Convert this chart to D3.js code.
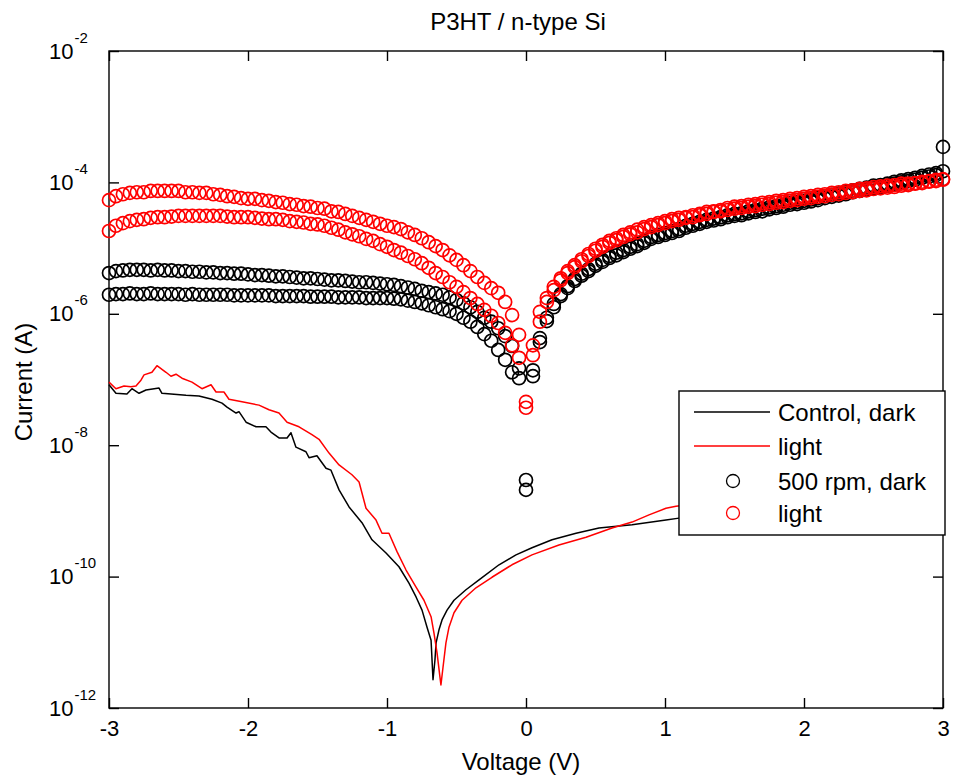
<!DOCTYPE html>
<html>
<head>
<meta charset="utf-8">
<script src="https://cdn.jsdelivr.net/npm/d3@7"></script>
<style>
  body { margin: 0; background: #fff; }
  svg { display: block; }
  text { font-family: "Liberation Sans", Arial, Helvetica, sans-serif; fill: #000; }
</style>
</head>
<body>
<svg id="chart" width="953" height="776"></svg>
<script>
// ---- labels ----
const chartTitle = "P3HT / n-type Si";
const xAxisLabel = "Voltage (V)";
const yAxisLabel = "Current (A)";
const xTickValues = [-3, -2, -1, 0, 1, 2, 3];
const yTickExponents = [-2, -4, -6, -8, -10, -12];
const legendLabels = ["Control, dark", "light", "500 rpm, dark", "light"];

// ---- control device: continuous traces (voltage in V, log10 of current in A) ----
const ctrlDarkV = [-3.00, -2.95, -2.871, -2.835, -2.784, -2.734, -2.640, -2.619, -2.446, -2.353,
  -2.259, -2.187, -2.151, -2.086, -2.065, -2.014, -1.942, -1.871, -1.835, -1.777,
  -1.719, -1.691, -1.655, -1.583, -1.561, -1.504, -1.439, -1.403, -1.345, -1.273,
  -1.180, -1.108, -1.007, -0.914, -0.842, -0.791, -0.748, -0.712, -0.683, -0.676,
  -0.669, -0.655, -0.647, -0.626, -0.604, -0.568, -0.518, -0.432, -0.338, -0.194,
  -0.072, 0.043, 0.187, 0.360, 0.525, 0.763, 1.007, 1.101, 1.5, 2.0,
  2.5, 3.0];
const ctrlDarkLog10 = [-7.08, -7.21, -7.22, -7.14, -7.21, -7.16, -7.13, -7.21, -7.24, -7.25,
  -7.30, -7.36, -7.42, -7.51, -7.49, -7.65, -7.72, -7.72, -7.80, -7.89,
  -7.89, -7.81, -8.03, -8.10, -8.19, -8.16, -8.35, -8.38, -8.68, -8.94,
  -9.18, -9.44, -9.64, -9.85, -10.10, -10.31, -10.51, -10.77, -10.97, -11.27,
  -11.57, -11.27, -11.01, -10.81, -10.66, -10.51, -10.36, -10.20, -10.05, -9.82,
  -9.67, -9.56, -9.44, -9.34, -9.26, -9.21, -9.14, -9.11, -9.02, -8.92,
  -8.82, -8.72];

const ctrlLightV = [-3.00, -2.95, -2.892, -2.842, -2.806, -2.770, -2.748, -2.691, -2.655, -2.590,
  -2.554, -2.518, -2.475, -2.403, -2.331, -2.266, -2.230, -2.173, -2.137, -2.043,
  -1.921, -1.849, -1.777, -1.719, -1.633, -1.540, -1.489, -1.417, -1.345, -1.252,
  -1.201, -1.151, -1.079, -1.036, -0.986, -0.928, -0.863, -0.791, -0.734, -0.683,
  -0.662, -0.640, -0.619, -0.612, -0.597, -0.576, -0.554, -0.518, -0.460, -0.360,
  -0.245, -0.101, 0.043, 0.237, 0.432, 0.619, 0.763, 0.885, 1.007, 1.079,
  1.5, 2.0, 2.5, 3.0];
const ctrlLightLog10 = [-7.04, -7.14, -7.10, -7.11, -7.10, -7.01, -6.93, -6.89, -6.79, -6.89,
  -6.95, -6.92, -6.98, -7.04, -7.14, -7.08, -7.19, -7.19, -7.30, -7.34,
  -7.39, -7.46, -7.51, -7.65, -7.72, -7.84, -7.91, -8.12, -8.30, -8.45,
  -8.56, -8.96, -9.14, -9.34, -9.34, -9.62, -9.90, -10.16, -10.36, -10.61,
  -10.86, -11.16, -11.53, -11.65, -11.38, -11.01, -10.77, -10.55, -10.36, -10.17,
  -10.01, -9.82, -9.67, -9.52, -9.40, -9.26, -9.17, -9.06, -8.96, -8.93,
  -8.82, -8.70, -8.58, -8.45];

// ---- 500 rpm device: swept measurements, -3 V to 3 V in 50 mV steps ----
const sweepV = d3.range(-300, 305, 5).map(d => d / 100);

const rpmDarkSweep1Log10 = [
  -5.38, -5.35, -5.34, -5.33, -5.33, -5.33, -5.34, -5.33, -5.34, -5.34,
  -5.35, -5.35, -5.36, -5.36, -5.37, -5.37, -5.38, -5.38, -5.39, -5.39,
  -5.40, -5.41, -5.41, -5.42, -5.43, -5.43, -5.44, -5.45, -5.46, -5.46,
  -5.47, -5.48, -5.49, -5.49, -5.50, -5.51, -5.52, -5.52, -5.53, -5.54,
  -5.55, -5.56, -5.58, -5.60, -5.62, -5.65, -5.67, -5.69, -5.71, -5.75,
  -5.79, -5.84, -5.90, -5.97, -6.06, -6.12, -6.22, -6.34, -6.49, -6.83,
  -8.53, -6.86, -6.37, -6.06, -5.85, -5.70, -5.58, -5.47, -5.39, -5.32,
  -5.24, -5.18, -5.12, -5.07, -5.03, -4.98, -4.94, -4.89, -4.83, -4.80,
  -4.77, -4.74, -4.71, -4.66, -4.63, -4.60, -4.57, -4.55, -4.53, -4.50,
  -4.48, -4.47, -4.44, -4.42, -4.40, -4.38, -4.36, -4.34, -4.31, -4.30,
  -4.28, -4.26, -4.24, -4.21, -4.19, -4.17, -4.15, -4.12, -4.10, -4.08,
  -4.05, -4.04, -4.02, -3.99, -3.97, -3.95, -3.93, -3.90, -3.88, -3.86,
  -3.83];
const rpmDarkSweep2Log10 = [
  -5.71, -5.70, -5.70, -5.69, -5.70, -5.70, -5.69, -5.70, -5.70, -5.70,
  -5.70, -5.71, -5.70, -5.71, -5.71, -5.71, -5.71, -5.71, -5.72, -5.72,
  -5.72, -5.72, -5.72, -5.72, -5.73, -5.73, -5.73, -5.73, -5.73, -5.74,
  -5.74, -5.74, -5.74, -5.75, -5.75, -5.75, -5.75, -5.76, -5.76, -5.76,
  -5.76, -5.77, -5.78, -5.80, -5.82, -5.84, -5.87, -5.90, -5.93, -5.96,
  -6.00, -6.06, -6.12, -6.20, -6.31, -6.41, -6.55, -6.70, -6.89, -6.98,
  -8.68, -6.95, -6.43, -6.11, -5.90, -5.73, -5.61, -5.50, -5.42, -5.35,
  -5.27, -5.21, -5.15, -5.11, -5.06, -5.01, -4.97, -4.92, -4.86, -4.83,
  -4.80, -4.77, -4.74, -4.69, -4.66, -4.63, -4.60, -4.58, -4.56, -4.53,
  -4.51, -4.50, -4.47, -4.45, -4.44, -4.41, -4.39, -4.37, -4.34, -4.33,
  -4.31, -4.29, -4.27, -4.24, -4.22, -4.20, -4.18, -4.15, -4.13, -4.11,
  -4.09, -4.07, -4.05, -4.02, -4.00, -3.98, -3.96, -3.93, -3.91, -3.89,
  -3.46];
const rpmLightSweep1Log10 = [
  -4.27, -4.21, -4.18, -4.16, -4.15, -4.15, -4.13, -4.13, -4.13, -4.13,
  -4.13, -4.15, -4.15, -4.16, -4.16, -4.18, -4.19, -4.21, -4.22, -4.24,
  -4.25, -4.25, -4.27, -4.28, -4.30, -4.31, -4.33, -4.34, -4.36, -4.37,
  -4.39, -4.40, -4.44, -4.45, -4.48, -4.51, -4.54, -4.57, -4.60, -4.63,
  -4.66, -4.68, -4.71, -4.76, -4.80, -4.85, -4.91, -4.97, -5.03, -5.11,
  -5.18, -5.26, -5.35, -5.44, -5.53, -5.61, -5.68, -5.82, -6.02, -6.32,
  -7.34, -6.48, -5.97, -5.76, -5.59, -5.46, -5.35, -5.26, -5.17, -5.09,
  -5.01, -4.95, -4.89, -4.85, -4.80, -4.76, -4.72, -4.68, -4.65, -4.62,
  -4.59, -4.56, -4.54, -4.53, -4.50, -4.48, -4.45, -4.44, -4.42, -4.39,
  -4.37, -4.36, -4.34, -4.33, -4.31, -4.30, -4.28, -4.27, -4.25, -4.24,
  -4.22, -4.21, -4.19, -4.18, -4.16, -4.15, -4.13, -4.12, -4.10, -4.09,
  -4.07, -4.06, -4.05, -4.04, -4.02, -4.02, -4.01, -3.99, -3.98, -3.96,
  -3.95];
const rpmLightSweep2Log10 = [
  -4.74, -4.66, -4.62, -4.59, -4.57, -4.56, -4.54, -4.53, -4.53, -4.52,
  -4.51, -4.51, -4.51, -4.51, -4.51, -4.51, -4.51, -4.52, -4.53, -4.53,
  -4.53, -4.54, -4.55, -4.56, -4.56, -4.57, -4.59, -4.60, -4.61, -4.63,
  -4.64, -4.66, -4.69, -4.72, -4.76, -4.79, -4.82, -4.86, -4.89, -4.94,
  -4.98, -5.03, -5.07, -5.12, -5.17, -5.23, -5.30, -5.38, -5.44, -5.52,
  -5.59, -5.67, -5.76, -5.85, -5.94, -6.03, -6.14, -6.29, -6.48, -6.67,
  -7.43, -6.63, -6.12, -5.82, -5.64, -5.49, -5.38, -5.29, -5.20, -5.12,
  -5.04, -4.98, -4.92, -4.88, -4.83, -4.79, -4.76, -4.71, -4.68, -4.65,
  -4.62, -4.59, -4.57, -4.54, -4.53, -4.50, -4.48, -4.45, -4.44, -4.42,
  -4.40, -4.39, -4.37, -4.36, -4.34, -4.33, -4.31, -4.30, -4.28, -4.27,
  -4.25, -4.24, -4.22, -4.21, -4.19, -4.18, -4.16, -4.15, -4.13, -4.12,
  -4.10, -4.09, -4.08, -4.07, -4.05, -4.04, -4.02, -4.01, -3.99, -3.98,
  -3.96];

// ---- layout ----
const plot = { left: 109, right: 943, top: 51, bottom: 708 };
const labelSize = 24;   // title, axis labels, legend
const tickSize = 22;    // tick numbers
const tickLen = 10;

const svg = d3.select("#chart");
const x = d3.scaleLinear().domain([-3, 3]).range([plot.left, plot.right]);
const y = d3.scaleLog().domain([1e-12, 1e-2]).range([plot.bottom, plot.top]);

const toPoints = (vs, logs) => vs.map((v, i) => ({ v, i: Math.pow(10, logs[i]) }));

// ---- frame and ticks (ticks point inward on all four sides) ----
svg.append("rect")
  .attr("x", plot.left).attr("y", plot.top)
  .attr("width", plot.right - plot.left).attr("height", plot.bottom - plot.top)
  .attr("fill", "none").attr("stroke", "#000").attr("stroke-width", 1.4);

const yTicks = yTickExponents.map(e => Math.pow(10, e));

const styleAxis = g => {
  g.select(".domain").remove();
  g.selectAll(".tick line").attr("stroke", "#000").attr("stroke-width", 1.4);
};

const gBottom = svg.append("g").attr("transform", `translate(0,${plot.bottom})`)
  .call(d3.axisBottom(x).tickValues(xTickValues).tickSize(-tickLen).tickPadding(0)
    .tickFormat(d => String(d)))
  .call(styleAxis);
gBottom.selectAll(".tick text")
  .attr("y", 28).attr("dy", null)
  .attr("font-size", tickSize).attr("font-family", null).attr("fill", "#000");

svg.append("g").attr("transform", `translate(0,${plot.top})`)
  .call(d3.axisTop(x).tickValues(xTickValues).tickSize(-tickLen).tickFormat(() => ""))
  .call(styleAxis);

const gLeft = svg.append("g").attr("transform", `translate(${plot.left},0)`)
  .call(d3.axisLeft(y).tickValues(yTicks).tickSize(-tickLen).tickFormat(() => ""))
  .call(styleAxis);
gLeft.selectAll(".tick text").remove();
gLeft.selectAll(".tick").each(function (d) {
  const exp = Math.round(Math.log10(d));
  const t = d3.select(this).append("text")
    .attr("x", -60).attr("y", 7)
    .attr("text-anchor", "start")
    .attr("font-size", tickSize);
  t.append("tspan").text("10");
  t.append("tspan").attr("font-size", 15).attr("dx", 1).attr("dy", -16).text(String(exp));
});

svg.append("g").attr("transform", `translate(${plot.right},0)`)
  .call(d3.axisRight(y).tickValues(yTicks).tickSize(-tickLen).tickFormat(() => ""))
  .call(styleAxis);

// ---- titles ----
svg.append("text")
  .attr("x", 518).attr("y", 30).attr("text-anchor", "middle")
  .attr("font-size", labelSize).text(chartTitle);
svg.append("text")
  .attr("x", 521).attr("y", 770).attr("text-anchor", "middle")
  .attr("font-size", labelSize).text(xAxisLabel);
svg.append("text")
  .attr("transform", "translate(32,382) rotate(-90)").attr("text-anchor", "middle")
  .attr("font-size", labelSize).text(yAxisLabel);

// ---- control traces ----
const line = d3.line().x(d => x(d.v)).y(d => y(d.i));
const traces = [
  { pts: toPoints(ctrlDarkV, ctrlDarkLog10), color: "#000" },
  { pts: toPoints(ctrlLightV, ctrlLightLog10), color: "#f00" }
];
svg.append("g").selectAll("path").data(traces).join("path")
  .attr("d", d => line(d.pts))
  .attr("fill", "none").attr("stroke", d => d.color).attr("stroke-width", 1.5)
  .attr("stroke-linejoin", "round");

// ---- 500 rpm sweeps as open circles ----
const markerR = 6.5;
const sweeps = [
  { pts: toPoints(sweepV, rpmDarkSweep1Log10), color: "#000" },
  { pts: toPoints(sweepV, rpmDarkSweep2Log10), color: "#000" },
  { pts: toPoints(sweepV, rpmLightSweep1Log10), color: "#f00" },
  { pts: toPoints(sweepV, rpmLightSweep2Log10), color: "#f00" }
];
const gSweeps = svg.append("g");
sweeps.forEach(s => {
  gSweeps.append("g").selectAll("circle").data(s.pts).join("circle")
    .attr("cx", d => x(d.v)).attr("cy", d => y(d.i)).attr("r", markerR)
    .attr("fill", "none").attr("stroke", s.color).attr("stroke-width", 1.7);
});

// ---- legend ----
const lg = svg.append("g");
lg.append("rect").attr("x", 679).attr("y", 391).attr("width", 266).attr("height", 144)
  .attr("fill", "#fff").attr("stroke", "#000").attr("stroke-width", 1.4);
const legendItems = [
  { label: legendLabels[0], color: "#000", kind: "line", cy: 412 },
  { label: legendLabels[1], color: "#f00", kind: "line", cy: 446 },
  { label: legendLabels[2], color: "#000", kind: "circle", cy: 481 },
  { label: legendLabels[3], color: "#f00", kind: "circle", cy: 513 }
];
legendItems.forEach(it => {
  if (it.kind === "line") {
    lg.append("line").attr("x1", 694).attr("x2", 770).attr("y1", it.cy).attr("y2", it.cy)
      .attr("stroke", it.color).attr("stroke-width", 1.5);
  } else {
    lg.append("circle").attr("cx", 733).attr("cy", it.cy).attr("r", markerR)
      .attr("fill", "none").attr("stroke", it.color).attr("stroke-width", 1.3);
  }
  lg.append("text").attr("x", 778).attr("y", it.cy + 9)
    .attr("font-size", labelSize).text(it.label);
});
</script>
</body>
</html>
